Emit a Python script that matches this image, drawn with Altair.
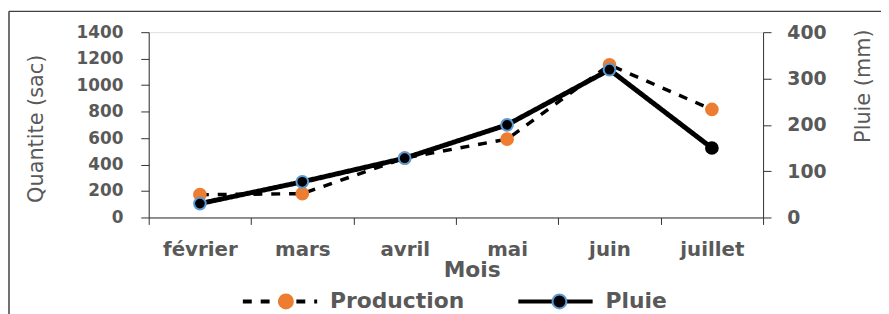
import altair as alt
import pandas as pd

months = ["février", "mars", "avril", "mai", "juin", "juillet"]
production = [172, 180, 449, 592, 1153, 816]
pluie = [30, 77, 128, 200, 319, 150]
series_names = ["Production", "Pluie"]
left_ticks = [0, 200, 400, 600, 800, 1000, 1200, 1400]
right_ticks = [0, 100, 200, 300, 400]

rows = []
for m, p, r in zip(months, production, pluie):
    rows.append({"month": m, "series": "Production", "fill_key": "Production", "ring_key": "Production", "value": p})
    rows.append({"month": m, "series": "Pluie", "fill_key": "Pluie", "ring_key": "Pluie", "value": r})
df = pd.DataFrame(rows)

FONT = "DejaVu Sans"
GRAY = "#595959"
AX = "#333333"

x_enc = alt.X(
    "month:N",
    sort=months,
    scale=alt.Scale(paddingInner=0, paddingOuter=0),
    axis=alt.Axis(
        title="Mois", titleFont=FONT, titleFontSize=22, titleFontWeight="bold",
        titleColor=GRAY, titleX=326, titleY=60, titleBaseline="alphabetic",
        labelFont=FONT, labelFontSize=20, labelFontWeight="bold", labelColor=GRAY,
        labelAngle=0, labelPadding=15, tickBand="extent", tickSize=7,
        tickColor=AX, domainColor=AX, grid=False, labelOverlap=False,
    ),
)

common = dict(
    title=None, orient="none", legendY=232, direction="horizontal",
    labelFont=FONT, labelFontSize=22, labelFontWeight="bold", labelColor=GRAY,
    labelOffset=11, padding=0,
)
dash_scale = alt.Scale(domain=series_names, range=[[9, 9], [1, 0]])
dash_legend = alt.Legend(
    legendX=93, symbolType="stroke", symbolSize=5625, symbolStrokeWidth=4,
    symbolStrokeColor="black", zindex=0, columnPadding=46, **common,
)
circ_r = 0.182
circle_path = f"M{-circ_r},0A{circ_r},{circ_r},0,1,1,{circ_r},0A{circ_r},{circ_r},0,1,1,{-circ_r},0Z"
fill_legend = alt.Legend(
    legendX=99, symbolType=circle_path, symbolSize=5929, symbolStrokeWidth=2,
    symbolStrokeColor="transparent", symbolOpacity=1, labelExpr="''", columnPadding=186,
    zindex=1, **common,
)
ring_legend = alt.Legend(
    legendX=99, symbolType=circle_path, symbolSize=5929, symbolStrokeWidth=2,
    symbolFillColor="transparent", symbolOpacity=1, labelExpr="''", columnPadding=186,
    zindex=2, **common,
)

fill_scale = alt.Scale(range=["#ED7D31", "#000000"])
stroke_scale = alt.Scale(range=["#ED7D31", "#5B9BD5"])


def make_layer(name, width, ymax, axis):
    base = alt.Chart(df).transform_filter(alt.datum.series == name)
    y_enc = alt.Y("value:Q", scale=alt.Scale(domain=[0, ymax], nice=False), axis=axis)
    line = base.mark_line(color="black", strokeWidth=width, strokeCap="butt").encode(
        x=x_enc,
        y=y_enc,
        strokeDash=alt.StrokeDash("series:N", scale=dash_scale, legend=dash_legend),
    )
    stroke_field = alt.Stroke("ring_key:N", sort=series_names, scale=stroke_scale, legend=ring_legend)
    if name == "Pluie":
        stroke_enc = alt.condition(alt.datum.month == "juillet", alt.value("black"), stroke_field)
    else:
        stroke_enc = stroke_field
    pts = base.mark_point(shape="circle", filled=True, opacity=1, strokeWidth=2, size=140).encode(
        x=x_enc,
        y=y_enc,
        fill=alt.Fill("fill_key:N", sort=series_names, scale=fill_scale, legend=fill_legend),
        stroke=stroke_enc,
    )
    return alt.layer(line, pts)


left_axis = alt.Axis(
    orient="left", values=left_ticks, format="d", labelOverlap=False, labelFlush=False,
    title="Quantite (sac)", titleFont=FONT,
    titleFontSize=21, titleFontWeight="normal", titleColor=GRAY, titleAngle=270,
    titleX=-113, titleY=97, titleBaseline="middle", titleAlign="center",
    labelFont=FONT, labelFontSize=17, labelFontWeight="bold", labelColor=GRAY,
    labelPadding=18, tickSize=8, tickColor=AX, domainColor=AX, grid=False,
)
right_axis = alt.Axis(
    orient="right", values=right_ticks, format="d", labelOverlap=False, labelFlush=False,
    title="Pluie (mm)", titleFont=FONT,
    titleFontSize=21, titleFontWeight="normal", titleColor=GRAY, titleAngle=270,
    titleX=101, titleY=54, titleBaseline="middle", titleAlign="center",
    labelFont=FONT, labelFontSize=19, labelFontWeight="bold", labelColor=GRAY,
    labelPadding=16, tickSize=8, tickColor=AX, domainColor=AX, grid=False,
)

prod_layer = make_layer("Production", 3.5, 1400, left_axis)
pluie_layer = make_layer("Pluie", 5, 400, right_axis)

frame_df = pd.DataFrame({"k": [0]})
frame_left = alt.Chart(frame_df).mark_rule(color="#404040", strokeWidth=1.5).encode(
    x=alt.value(-141), y=alt.value(-21), y2=alt.value(300)
)
frame_top = alt.Chart(frame_df).mark_rule(color="#404040", strokeWidth=1.5).encode(
    x=alt.value(-141), x2=alt.value(760), y=alt.value(-21)
)

chart = alt.layer(prod_layer, pluie_layer, frame_left, frame_top).resolve_scale(
    y="independent"
).properties(
    width=620, height=187,
    padding={"left": 142, "top": 23, "right": 119, "bottom": 96},
    autosize=alt.AutoSizeParams(type="none"),
).configure_view(stroke=AX, strokeWidth=1).configure(background="white")

chart.save("out.html", embed_options={"renderer": "svg", "actions": False})
